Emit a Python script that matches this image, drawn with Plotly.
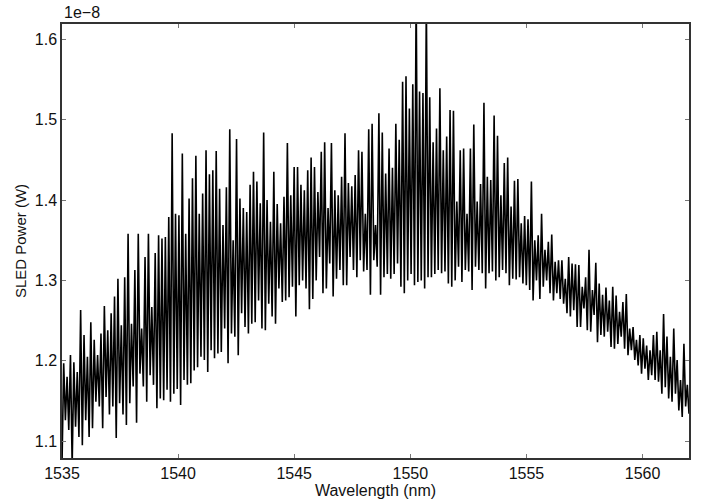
import numpy as np
import plotly.graph_objects as go

# Wavelength sampling range (nm)
WL_START = 1535.0
WL_END = 1562.0

# Local maxima of the spectrum (units of 1e-8 W), left to right
PEAKS = [
    1.197, 1.180, 1.207, 1.198, 1.186, 1.263, 1.232, 1.205, 1.248, 1.226,
    1.207, 1.234, 1.268, 1.238, 1.259, 1.280, 1.302, 1.244, 1.304, 1.358,
    1.246, 1.313, 1.358, 1.240, 1.329, 1.358, 1.267, 1.334, 1.356, 1.352,
    1.354, 1.379, 1.483, 1.383, 1.381, 1.458, 1.358,
    1.402, 1.427, 1.455, 1.383, 1.408, 1.462, 1.432, 1.437, 1.461, 1.414,
    1.369, 1.416, 1.488, 1.350, 1.476, 1.402, 1.390, 1.385, 1.419, 1.435,
    1.423, 1.396, 1.484, 1.400, 1.373, 1.435, 1.395, 1.371, 1.404, 1.471,
    1.406, 1.441, 1.441, 1.419, 1.412, 1.437, 1.453,
    1.441, 1.410, 1.460, 1.472, 1.390, 1.471, 1.412, 1.406, 1.429, 1.483,
    1.421, 1.417, 1.431, 1.462, 1.460, 1.383, 1.488, 1.495, 1.369, 1.508,
    1.484, 1.433, 1.464, 1.440, 1.495, 1.475, 1.547, 1.554, 1.514, 1.544,
    1.660, 1.535, 1.533, 1.650, 1.528, 1.472, 1.489,
    1.539, 1.462, 1.479, 1.512, 1.511, 1.398, 1.462, 1.464, 1.383, 1.464,
    1.494, 1.398, 1.420, 1.521, 1.429, 1.425, 1.505, 1.480, 1.406, 1.446,
    1.453, 1.392, 1.424, 1.426, 1.371, 1.380, 1.376, 1.423, 1.350, 1.356,
    1.383, 1.338, 1.348, 1.357, 1.323, 1.325, 1.325,
    1.302, 1.329, 1.321, 1.320, 1.319, 1.292, 1.304, 1.338, 1.288, 1.322,
    1.296, 1.282, 1.291, 1.275, 1.292, 1.281, 1.261, 1.273, 1.283, 1.240,
    1.242, 1.226, 1.232, 1.228, 1.219, 1.213, 1.232, 1.236, 1.213, 1.258,
    1.230, 1.205, 1.240, 1.201, 1.176, 1.221, 1.170,
]

# Local minima of the spectrum (units of 1e-8 W), one before/after each peak
TROUGHS = [
    1.070, 1.126, 1.114, 1.070, 1.118, 1.105, 1.095, 1.126, 1.105, 1.116,
    1.149, 1.143, 1.116, 1.155, 1.133, 1.143, 1.104, 1.147, 1.133, 1.120,
    1.147, 1.168, 1.123, 1.184, 1.168, 1.149, 1.182, 1.170, 1.141, 1.153,
    1.151, 1.164, 1.149, 1.159, 1.165, 1.145, 1.176, 1.170,
    1.172, 1.188, 1.192, 1.205, 1.201, 1.186, 1.213, 1.203, 1.209, 1.211,
    1.240, 1.197, 1.234, 1.230, 1.207, 1.259, 1.242, 1.234, 1.246, 1.248,
    1.275, 1.240, 1.238, 1.271, 1.255, 1.246, 1.290, 1.273, 1.275, 1.279,
    1.292, 1.255, 1.294, 1.300, 1.290, 1.264, 1.277,
    1.300, 1.329, 1.284, 1.290, 1.321, 1.280, 1.302, 1.313, 1.294, 1.294,
    1.329, 1.313, 1.304, 1.325, 1.311, 1.313, 1.282, 1.325, 1.317, 1.282,
    1.304, 1.308, 1.302, 1.308, 1.321, 1.292, 1.284, 1.300, 1.308, 1.294,
    1.298, 1.300, 1.290, 1.304, 1.304, 1.308, 1.313,
    1.309, 1.311, 1.296, 1.292, 1.300, 1.317, 1.298, 1.313, 1.311, 1.288,
    1.317, 1.313, 1.309, 1.290, 1.309, 1.311, 1.300, 1.304, 1.313, 1.309,
    1.294, 1.302, 1.301, 1.304, 1.296, 1.294, 1.288, 1.275, 1.300, 1.277,
    1.292, 1.300, 1.284, 1.275, 1.284, 1.277, 1.271,
    1.259, 1.255, 1.263, 1.242, 1.242, 1.265, 1.238, 1.236, 1.257, 1.223,
    1.232, 1.230, 1.236, 1.217, 1.215, 1.221, 1.230, 1.215, 1.207, 1.213,
    1.201, 1.194, 1.184, 1.190, 1.176, 1.182, 1.176, 1.174, 1.159, 1.167,
    1.153, 1.149, 1.159, 1.138, 1.130, 1.143, 1.134,
]

X_TICKS = [1535, 1540, 1545, 1550, 1555, 1560]
Y_TICKS = [1.1, 1.2, 1.3, 1.4, 1.5, 1.6]

# interleave troughs and peaks: t0, p0, t1, p1, ..., pN-1, tN
power = []
for i, p in enumerate(PEAKS):
    power.append(TROUGHS[i])
    power.append(p)
power.extend(TROUGHS[len(PEAKS):])
wl = np.linspace(WL_START, WL_END, len(power))

FONT = "Liberation Sans, Arial, Helvetica, sans-serif"

fig = go.Figure()
fig.add_trace(go.Scatter(x=wl, y=power, mode="lines",
                         line=dict(color="black", width=1.6),
                         showlegend=False, hoverinfo="skip"))

axis_common = dict(showline=True, linecolor="#333", linewidth=1.5, mirror="allticks",
                   ticks="inside", ticklen=4, tickcolor="#777", tickwidth=1,
                   showgrid=False, zeroline=False,
                   tickfont=dict(family=FONT, size=16, color="#111"))

fig.update_xaxes(range=[WL_START, WL_END], tickvals=X_TICKS,
                 ticktext=[str(v) for v in X_TICKS],
                 title=dict(text="Wavelength (nm)", standoff=5,
                            font=dict(family=FONT, size=16, color="#111")),
                 **axis_common)
fig.update_yaxes(range=[1.079, 1.619], tickvals=Y_TICKS,
                 ticktext=[f"{v:.1f}" for v in Y_TICKS],
                 title=dict(text="SLED Power (W)", standoff=5,
                            font=dict(family=FONT, size=15, color="#111")),
                 **axis_common)

fig.add_annotation(text="1e\u22128", xref="paper", yref="paper", x=0, y=1,
                   xanchor="left", yanchor="bottom", yshift=1, showarrow=False,
                   font=dict(family=FONT, size=16, color="#111"))

fig.update_layout(width=705, height=499, plot_bgcolor="white", paper_bgcolor="white",
                  margin=dict(l=62, r=16, t=24, b=41, autoexpand=False))

fig.write_html("out.html")
